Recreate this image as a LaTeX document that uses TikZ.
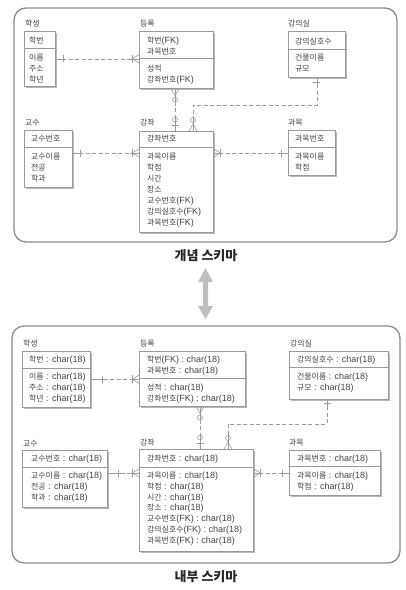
\documentclass[tikz,border=0pt]{standalone}
\usepackage{fontspec}
\setmainfont{Liberation Sans}
\newfontfamily\kr{Noto Sans CJK KR}
\usetikzlibrary{shadows}
\definecolor{txt}{HTML}{444444}
\definecolor{bx}{HTML}{9A9A9A}
\definecolor{ln}{HTML}{9A9A9A}
\definecolor{pan}{HTML}{8C8C8C}
\definecolor{arr}{HTML}{BDBEC0}
\newcommand\K[1]{{\kr\fontsize{7.9}{11}\selectfont #1}}
\begin{document}
\begin{tikzpicture}[x=1pt,y=-1pt,
  ebox/.style={draw=bx, line width=0.6pt, fill=white, anchor=north west, inner sep=0pt,
    drop shadow={shadow xshift=1.5pt, shadow yshift=-1.5pt, fill=black!28, opacity=1}},
  etxt/.style={anchor=base west, inner sep=0pt, text=txt, font=\fontsize{9}{11}\selectfont},
  conn/.style={draw=ln, line width=0.6pt, dash pattern=on 4pt off 2.5pt},
  sym/.style={draw=ln, line width=0.6pt},
  panel/.style={draw=pan, line width=1.3pt, rounded corners=12pt},
  ttl/.style={font=\kr\bfseries\fontsize{13}{15}\selectfont, text=black!85, inner sep=0pt},
  pics/one/.style={code={\draw[sym] (0,0)--(#1+2,0); \draw[sym] (#1,-3.5)--(#1,3.5);}},
  pics/manyone/.style={code={\draw[sym] (0,0)--(9,0); \draw[sym] (0,-4)--(7,0)--(0,4); \draw[sym] (7,-4)--(7,4);}},
  pics/zeromany/.style={code={\draw[sym] (0,0)--(15,0); \draw[sym] (0,-4)--(7,0)--(0,4); \draw[sym] (11,0) circle (2.5);}},
  pics/zeroone/.style={code={\draw[sym] (0,0)--(15,0); \draw[sym] (6,-3.5)--(6,3.5); \draw[sym] (11.5,0) circle (2.5);}},
]
\useasboundingbox (0,0) rectangle (406,590);

% ---------- panels ----------
\draw[panel] (14,8) rectangle (397,242);
\draw[panel] (12,326) rectangle (400,563);
\node[ttl] (t1) at (206,256) {개념 스키마};
\node[ttl] (t2) at (206,577) {내부 스키마};
\fill[arr] (205.5,268) -- (213,282) -- (208,282) -- (208,306) -- (213,306) -- (205.5,319)
  -- (198,306) -- (203,306) -- (203,282) -- (198,282) -- cycle;

% ---------- top: boxes ----------
\node[ebox, minimum width=31pt, minimum height=55pt] (hakA) at (24,31) {};
\node[ebox, minimum width=74pt, minimum height=57pt] (dgA) at (139,31) {};
\node[ebox, minimum width=57pt, minimum height=46pt] (gsA) at (288,31) {};
\node[ebox, minimum width=48pt, minimum height=57pt] (gyA) at (24,130) {};
\node[ebox, minimum width=74pt, minimum height=101pt] (gjA) at (139,131) {};
\node[ebox, minimum width=47pt, minimum height=45pt] (gmA) at (288,130) {};
\draw[draw=bx, line width=0.6pt] (hakA.west |- 0,48) -- (hakA.east |- 0,48);
\draw[draw=bx, line width=0.6pt] (dgA.west |- 0,58) -- (dgA.east |- 0,58);
\draw[draw=bx, line width=0.6pt] (gsA.west |- 0,49) -- (gsA.east |- 0,49);
\draw[draw=bx, line width=0.6pt] (gyA.west |- 0,147) -- (gyA.east |- 0,147);
\draw[draw=bx, line width=0.6pt] (gjA.west |- 0,147) -- (gjA.east |- 0,147);
\draw[draw=bx, line width=0.6pt] (gmA.west |- 0,147) -- (gmA.east |- 0,147);

% labels
\node[etxt] (lhakA) at (25,26) {\K{학생}};
\node[etxt] (ldgA) at (140,26) {\K{등록}};
\node[etxt] (lgsA) at (288,26) {\K{강의실}};
\node[etxt] (lgyA) at (25,125) {\K{교수}};
\node[etxt] (lgjA) at (140,125) {\K{강좌}};
\node[etxt] (lgmA) at (288,125) {\K{과목}};

% texts
\node[etxt] (a1) at (29,43) {\K{학번}};
\node[etxt] (a2) at (29,60) {\K{이름}};
\node[etxt] (a3) at (29,71) {\K{주소}};
\node[etxt] (a4) at (29,82) {\K{학년}};
\node[etxt] (b1) at (147,43) {\K{학번}(FK)};
\node[etxt] (b2) at (147,54) {\K{과목번호}};
\node[etxt] (b3) at (147,71) {\K{성적}};
\node[etxt] (b4) at (147,82) {\K{강좌번호}(FK)};
\node[etxt] (c1) at (295,44) {\K{강의실호수}};
\node[etxt] (c2) at (295,60) {\K{건물이름}};
\node[etxt] (c3) at (295,71) {\K{규모}};
\node[etxt] (d1) at (31,141) {\K{교수번호}};
\node[etxt] (d2) at (31,159) {\K{교수이름}};
\node[etxt] (d3) at (31,170) {\K{전공}};
\node[etxt] (d4) at (31,181) {\K{학과}};
\node[etxt] (e1) at (147,141) {\K{강좌번호}};
\node[etxt] (e2) at (147,159) {\K{과목이름}};
\node[etxt] (e3) at (147,170) {\K{학점}};
\node[etxt] (e4) at (147,181) {\K{시간}};
\node[etxt] (e5) at (147,192) {\K{장소}};
\node[etxt] (e6) at (147,203) {\K{교수번호}(FK)};
\node[etxt] (e7) at (147,214) {\K{강의실호수}(FK)};
\node[etxt] (e8) at (147,225) {\K{과목번호}(FK)};
\node[etxt] (f1) at (295,141) {\K{과목번호}};
\node[etxt] (f2) at (295,159) {\K{과목이름}};
\node[etxt] (f3) at (295,170) {\K{학점}};

% connectors top
\coordinate (rA) at (0,153);
\coordinate (vA) at (175,0);
\coordinate (bendA) at (193,105);
\draw[conn] (hakA.east) -- (hakA.east -| dgA.west);
\pic at (hakA.east) {one=8};
\pic[rotate=180] at (hakA.east -| dgA.west) {manyone};
\draw[conn] (dgA.south -| vA) -- (gjA.north -| vA);
\pic[rotate=-90] at (dgA.south -| vA) {zeromany};
\pic[rotate=90] at (gjA.north -| vA) {zeroone};
\draw[conn] (gsA.south) |- (bendA) -- (gjA.north -| bendA);
\pic[rotate=-90] at (gsA.south) {one=5};
\pic[rotate=90] at (gjA.north -| bendA) {zeromany};
\draw[conn] (gyA.east |- rA) -- (gjA.west |- rA);
\pic at (gyA.east |- rA) {one=8};
\pic[rotate=180] at (gjA.west |- rA) {manyone};
\draw[conn] (gmA.west |- rA) -- (gjA.east |- rA);
\pic[rotate=180] at (gmA.west |- rA) {one=7};
\pic at (gjA.east |- rA) {manyone};

% ---------- bottom: boxes ----------
\node[ebox, minimum width=68pt, minimum height=56pt] (hakB) at (22,351) {};
\node[ebox, minimum width=106pt, minimum height=55pt] (dgB) at (139,351) {};
\node[ebox, minimum width=99pt, minimum height=48pt] (gsB) at (289,351) {};
\node[ebox, minimum width=85pt, minimum height=57pt] (gyB) at (22,450) {};
\node[ebox, minimum width=114pt, minimum height=102pt] (gjB) at (139,449) {};
\node[ebox, minimum width=91pt, minimum height=45pt] (gmB) at (289,450) {};
\draw[draw=bx, line width=0.6pt] (hakB.west |- 0,368) -- (hakB.east |- 0,368);
\draw[draw=bx, line width=0.6pt] (dgB.west |- 0,378) -- (dgB.east |- 0,378);
\draw[draw=bx, line width=0.6pt] (gsB.west |- 0,367) -- (gsB.east |- 0,367);
\draw[draw=bx, line width=0.6pt] (gyB.west |- 0,467) -- (gyB.east |- 0,467);
\draw[draw=bx, line width=0.6pt] (gjB.west |- 0,467) -- (gjB.east |- 0,467);
\draw[draw=bx, line width=0.6pt] (gmB.west |- 0,466) -- (gmB.east |- 0,466);

\node[etxt] (lhakB) at (23,346) {\K{학생}};
\node[etxt] (ldgB) at (140,346) {\K{등록}};
\node[etxt] (lgsB) at (290,346) {\K{강의실}};
\node[etxt] (lgyB) at (23,446) {\K{교수}};
\node[etxt] (lgjB) at (140,445) {\K{강좌}};
\node[etxt] (lgmB) at (289,445) {\K{과목}};

\node[etxt] (g1) at (29,362) {\K{학번} : char(18)};
\node[etxt] (g2) at (29,379.5) {\K{이름} : char(18)};
\node[etxt] (g3) at (29,390.5) {\K{주소} : char(18)};
\node[etxt] (g4) at (29,401) {\K{학년} : char(18)};
\node[etxt] (h1) at (147,362) {\K{학번}(FK) : char(18)};
\node[etxt] (h2) at (147,373) {\K{과목번호} : char(18)};
\node[etxt] (h3) at (147,390.5) {\K{성적} : char(18)};
\node[etxt] (h4) at (147,401) {\K{강좌번호}(FK) : char(18)};
\node[etxt] (i1) at (297,362) {\K{강의실호수} : char(18)};
\node[etxt] (i2) at (297,379.5) {\K{건물이름} : char(18)};
\node[etxt] (i3) at (297,390.5) {\K{규모} : char(18)};
\node[etxt] (j1) at (31,461) {\K{교수번호} : char(18)};
\node[etxt] (j2) at (31,478.5) {\K{교수이름} : char(18)};
\node[etxt] (j3) at (31,489.5) {\K{전공} : char(18)};
\node[etxt] (j4) at (31,500.5) {\K{학과} : char(18)};
\node[etxt] (k1) at (147,461) {\K{강좌번호} : char(18)};
\node[etxt] (k2) at (147,478) {\K{과목이름} : char(18)};
\node[etxt] (k3) at (147,489) {\K{학점} : char(18)};
\node[etxt] (k4) at (147,500) {\K{시간} : char(18)};
\node[etxt] (k5) at (147,510.5) {\K{장소} : char(18)};
\node[etxt] (k6) at (147,521) {\K{교수번호}(FK) : char(18)};
\node[etxt] (k7) at (147,532) {\K{강의실호수}(FK) : char(18)};
\node[etxt] (k8) at (147,543) {\K{과목번호}(FK) : char(18)};
\node[etxt] (m1) at (297,461) {\K{과목번호} : char(18)};
\node[etxt] (m2) at (297,478.5) {\K{과목이름} : char(18)};
\node[etxt] (m3) at (297,489.5) {\K{학점} : char(18)};

% connectors bottom
\coordinate (rB) at (0,473);
\coordinate (vB) at (200,0);
\coordinate (bendB1) at (327,424);
\coordinate (bendB2) at (228,424);
\draw[conn] (hakB.east) -- (hakB.east -| dgB.west);
\pic at (hakB.east) {one=12};
\pic[rotate=180] at (hakB.east -| dgB.west) {manyone};
\draw[conn] (dgB.south -| vB) -- (gjB.north -| vB);
\pic[rotate=-90] at (dgB.south -| vB) {zeromany};
\pic[rotate=90] at (gjB.north -| vB) {zeroone};
\draw[conn] (gsB.south -| bendB1) -- (bendB1) -- (bendB2) -- (gjB.north -| bendB2);
\pic[rotate=-90] at (gsB.south -| bendB1) {one=4};
\pic[rotate=90] at (gjB.north -| bendB2) {zeromany};
\draw[conn] (gyB.east |- rB) -- (gjB.west |- rB);
\pic at (gyB.east |- rB) {one=11};
\pic[rotate=180] at (gjB.west |- rB) {manyone};
\draw[conn] (gmB.west |- rB) -- (gjB.east |- rB);
\pic[rotate=180] at (gmB.west |- rB) {one=7};
\pic at (gjB.east |- rB) {manyone};
\end{tikzpicture}
\end{document}
